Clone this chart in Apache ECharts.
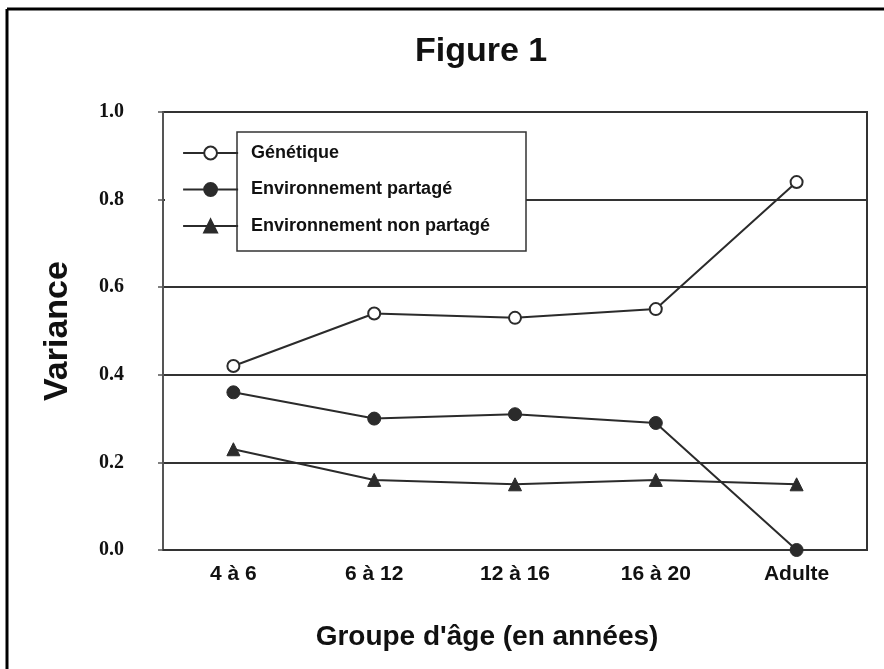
<!DOCTYPE html>
<html>
<head>
<meta charset="utf-8">
<script src="https://cdn.jsdelivr.net/npm/echarts@6/dist/echarts.min.js"></script>
<style>
  html, body { margin: 0; padding: 0; background: #fff; }
  #main { width: 884px; height: 669px; }
</style>
</head>
<body>
<div id="main"></div>
<script>
// groupes d'âge
var categories = ["4 à 6", "6 à 12", "12 à 16", "16 à 20", "Adulte"];
// part de variance
var genetique = [0.42, 0.54, 0.53, 0.55, 0.84];
var envPartage = [0.36, 0.30, 0.31, 0.29, 0.0];
var envNonPartage = [0.23, 0.16, 0.15, 0.16, 0.15];
var yTicks = ["0.0", "0.2", "0.4", "0.6", "0.8", "1.0"];

var ink = "#2b2b2b";
var sans = "Arial, 'Liberation Sans', sans-serif";

var myChart = echarts.init(document.getElementById("main"));

var option = {
  backgroundColor: "#fff",
  animation: false,
  title: {
    text: "Figure 1",
    left: 410,
    top: 30,
    textStyle: { fontFamily: sans, fontWeight: "bold", fontSize: 34, color: "#111" }
  },
  legend: {
    orient: "vertical",
    left: 177,
    top: 139,
    itemWidth: 55,
    itemHeight: 16,
    itemGap: 18.5,
    z: 6,
    selectedMode: false,
    lineStyle: { width: 2.2 },
    textStyle: {
      fontFamily: sans,
      fontWeight: "bold",
      fontSize: 18,
      color: "#111",
      padding: [0, 0, 0, 8]
    },
    data: ["Génétique", "Environnement partagé", "Environnement non partagé"]
  },
  graphic: [
    // cadre de la figure (haut et gauche)
    { type: "line", z: 10, shape: { x1: 7, y1: 9, x2: 884, y2: 9 }, style: { stroke: "#000", lineWidth: 3 } },
    { type: "line", z: 10, shape: { x1: 7, y1: 9, x2: 7, y2: 669 }, style: { stroke: "#000", lineWidth: 3 } },
    // zone blanche sous la légende
    { type: "rect", z: 3, shape: { x: 165, y: 132, width: 72, height: 119 }, style: { fill: "#fff" } },
    { type: "rect", z: 3, shape: { x: 237, y: 132, width: 289, height: 119 }, style: { fill: "#fff", stroke: "#333", lineWidth: 1.5 } }
  ],
  grid: {
    left: 163,
    right: 17,
    top: 112,
    bottom: 119,
    show: true,
    borderColor: "#333",
    borderWidth: 2
  },
  xAxis: {
    type: "category",
    data: categories,
    boundaryGap: true,
    axisLine: { lineStyle: { color: "#333", width: 2 } },
    axisTick: { show: false },
    axisLabel: {
      margin: 14,
      fontFamily: sans,
      fontWeight: "bold",
      fontSize: 21,
      color: "#111"
    },
    name: "Groupe d'âge (en années)",
    nameLocation: "middle",
    nameGap: 73,
    nameTextStyle: {
      fontFamily: sans,
      fontWeight: "bold",
      fontSize: 28,
      color: "#111",
      padding: [0, 56, 0, 0]
    }
  },
  yAxis: {
    type: "value",
    min: 0,
    max: 1,
    interval: 0.2,
    axisLine: { show: true, lineStyle: { color: "#555", width: 2 } },
    axisTick: { show: true, length: 5, lineStyle: { color: "#555", width: 1.5 } },
    axisLabel: {
      margin: 39,
      fontFamily: "'Liberation Serif', 'Times New Roman', serif",
      fontWeight: "bold",
      fontSize: 20,
      color: "#111",
      formatter: function (v) {
        return yTicks[Math.round(v / 0.2)];
      }
    },
    splitLine: { show: true, lineStyle: { color: "#333", width: 2 } },
    name: "Variance",
    nameLocation: "middle",
    nameRotate: 90,
    nameGap: 88,
    nameTextStyle: { fontFamily: sans, fontWeight: "bold", fontSize: 34, color: "#111" }
  },
  series: [
    {
      name: "Génétique",
      type: "line",
      data: genetique,
      symbol: "circle",
      symbolSize: 12,
      itemStyle: { color: "#fff", borderColor: ink, borderWidth: 2 },
      lineStyle: { color: ink, width: 2 }
    },
    {
      name: "Environnement partagé",
      type: "line",
      data: envPartage,
      symbol: "circle",
      symbolSize: 13,
      itemStyle: { color: ink, borderColor: ink, borderWidth: 1 },
      lineStyle: { color: ink, width: 2 }
    },
    {
      name: "Environnement non partagé",
      type: "line",
      data: envNonPartage,
      symbol: "triangle",
      symbolSize: 13,
      itemStyle: { color: ink, borderColor: ink, borderWidth: 1 },
      lineStyle: { color: ink, width: 2 }
    }
  ]
};

myChart.setOption(option);
</script>
</body>
</html>
